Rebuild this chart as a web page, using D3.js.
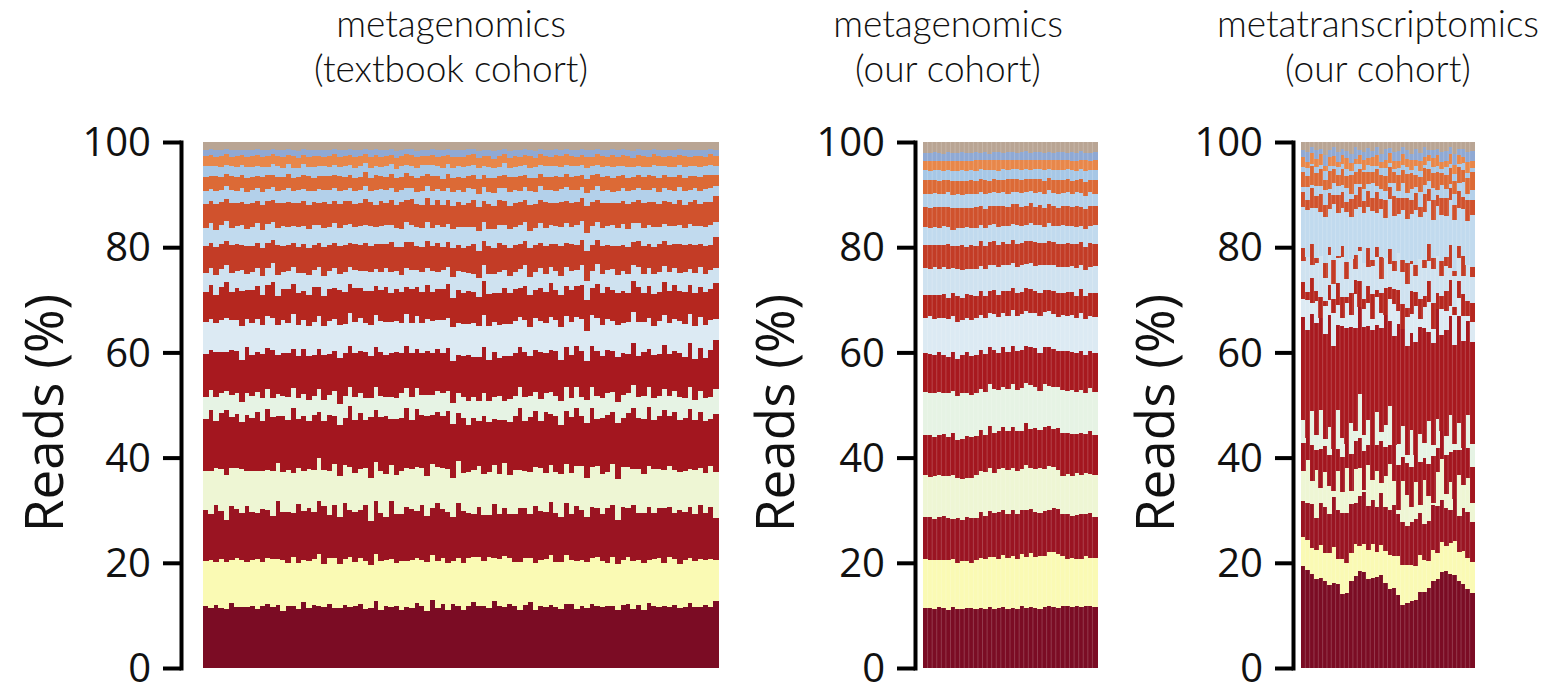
<!DOCTYPE html>
<html><head><meta charset="utf-8">
<script src="https://cdn.jsdelivr.net/npm/d3@7"></script>
<style>
html,body{margin:0;padding:0;background:#fff;}
svg{display:block;}
</style></head><body>
<svg id="chart" width="1566" height="689"></svg>
<script>
// ---------------- DATA ----------------
const taxa = ["taxon 1","taxon 2","taxon 3","taxon 4","taxon 5","taxon 6","taxon 7","taxon 8","taxon 9","taxon 10",
              "taxon 11","taxon 12","taxon 13","taxon 14","taxon 15","taxon 16","taxon 17","taxon 18","taxon 19"];
const taxonColors = ["#7b0c24","#fafab4","#9a1422","#eef6d4","#a3161f","#e6f3e4","#a8191f","#dceaf3","#b5271f","#cfe2f0",
                     "#c33c26","#c1daee","#d0522d","#b3d0ea","#dc6a36","#a6c7e6","#e8874a","#8fa9d4","#b9a594"];
const yTickValues = [0,20,40,60,80,100];
const panelTitles = [["metagenomics","(textbook cohort)"],["metagenomics","(our cohort)"],["metatranscriptomics","(our cohort)"]];
const yAxisLabel = "Reads (%)";

// reads per sample in 0.1 % units, one row per taxon (bottom of stack first)
const textbookCohortReads = [
 [118,112,121,115,109,124,117,113,120,116,111,119,125,114,118,108,122,117,113,127,115,120,112,118,123,110,116,121,114,119,122,113,117,126,111,118,115,120,109,117,114,121,118,112,124,116,119,113,122,115,110,117,123,115,119,112,126,118,114,120,117,111,120,124,113,118,115,121,116,110,119,123,114,117,112,125,118,113,120,116,113,118,122,115,119,111,124,117,114,121,116,120,113,118,125,112,117,122,115,130],
 [86,92,84,95,88,81,93,87,90,85,94,83,89,91,86,97,84,90,88,82,90,87,95,83,89,92,85,88,96,84,87,93,82,89,94,86,91,84,90,88,92,85,89,96,83,90,87,93,81,89,88,91,84,90,86,93,80,89,95,86,85,94,88,83,92,87,90,96,84,89,91,86,93,88,84,90,95,87,82,92,89,84,90,94,86,91,83,88,93,85,93,87,85,91,88,84,92,86,90,80],
 [98,85,110,92,78,104,95,88,112,90,86,102,94,80,108,91,99,84,115,93,101,89,96,112,83,98,90,106,87,95,92,107,85,99,93,81,110,96,89,103,96,88,104,91,86,113,92,99,84,101,98,86,80,92,88,78,100,84,90,82,90,103,96,82,111,94,88,102,93,85,97,89,108,95,83,100,92,87,106,96,84,99,93,110,89,96,102,85,94,107,95,88,101,92,98,86,104,90,97,83],
 [74,82,70,79,85,72,77,81,68,76,80,73,78,84,71,76,83,74,69,79,75,81,77,70,83,76,79,72,82,74,78,71,84,75,79,82,68,77,80,73,76,83,72,78,81,70,77,85,74,79,71,78,82,74,77,80,73,76,84,72,83,75,70,79,76,82,74,71,78,81,72,79,76,84,73,77,80,75,70,78,80,74,78,71,82,75,79,83,73,76,77,82,73,79,75,81,70,78,76,90],
 [100,115,92,108,120,96,104,88,112,99,110,94,118,101,87,106,97,122,93,105,92,104,83,96,108,89,100,91,114,100,106,92,119,97,104,111,86,109,99,115,93,108,101,117,90,105,96,113,102,88,104,90,98,84,112,93,87,102,80,99,104,118,95,102,109,89,114,98,106,92,99,107,113,94,101,116,90,105,111,96,108,91,103,120,97,106,112,93,100,117,95,110,98,104,115,92,107,101,89,112],
 [42,37,45,39,36,43,40,38,44,41,38,44,40,35,42,39,46,37,41,43,41,36,43,40,38,45,39,42,37,44,39,42,37,44,41,36,43,40,45,38,43,40,38,42,36,41,44,39,40,37,40,45,39,37,43,38,41,46,36,42,37,41,44,40,38,42,36,43,39,45,44,38,41,36,43,40,45,37,42,39,41,43,37,45,39,44,38,40,36,42,38,40,43,39,42,37,41,44,40,50],
 [82,75,88,79,72,85,80,77,90,78,76,84,79,91,73,81,86,74,80,87,83,78,72,86,80,75,89,81,77,84,79,88,81,74,85,78,83,90,76,80,85,73,80,87,77,82,75,84,79,71,78,86,74,81,89,76,83,72,85,80,81,77,86,75,82,88,74,80,84,78,74,83,79,87,72,80,85,78,82,76,87,80,75,83,78,86,73,81,79,85,80,76,84,79,86,74,82,77,88,95],
 [62,58,55,61,64,57,60,63,56,59,61,57,63,59,55,62,58,64,60,56,58,63,60,56,62,59,65,57,61,60,63,56,59,62,58,64,57,60,55,61,57,62,58,63,60,55,61,59,64,58,60,59,64,57,61,63,56,62,58,60,62,58,61,55,63,60,57,64,59,61,59,64,57,62,56,61,63,58,60,57,61,56,62,59,64,58,60,55,63,59,58,62,60,63,57,61,59,64,56,40],
 [58,64,55,62,67,53,60,65,57,61,63,56,61,68,54,59,66,57,62,55,60,66,53,59,63,57,68,61,55,64,57,62,67,54,60,65,56,63,59,52,64,55,60,66,53,61,58,67,56,62,59,63,57,52,64,60,55,62,68,58,61,56,65,60,54,63,58,66,57,60,55,62,59,64,58,53,66,60,63,57,63,58,54,61,67,56,62,59,55,65,60,64,57,62,55,61,58,63,59,70],
 [36,33,38,35,31,37,34,39,32,35,34,37,32,36,39,33,35,31,38,36,37,32,35,39,34,36,31,38,33,35,33,38,36,32,35,37,39,34,31,36,35,31,37,34,38,32,36,33,39,35,38,34,33,36,31,37,35,39,34,32,32,36,39,33,35,38,34,31,37,36,36,35,31,38,34,33,37,35,32,39,34,39,36,32,37,35,33,38,36,31,37,33,35,39,32,36,38,34,35,30],
 [52,47,55,49,44,53,50,46,56,48,46,54,50,43,57,49,52,45,51,55,53,48,44,56,50,47,54,51,45,49,49,55,51,46,53,44,57,48,52,50,54,45,49,52,47,56,43,50,55,48,47,52,56,50,45,51,48,54,46,53,51,49,45,55,52,47,53,44,50,56,45,53,50,48,56,51,46,52,49,44,55,48,52,45,50,54,47,51,53,49,50,46,54,51,48,52,45,55,47,60],
 [34,37,33,36,38,32,35,37,34,36,37,33,36,34,31,38,35,33,37,35,35,38,32,37,34,36,33,38,35,32,36,34,38,33,35,37,32,36,34,38,33,36,35,38,32,34,37,35,36,33,38,35,33,36,37,32,36,34,38,35,34,37,36,32,35,38,33,37,34,36,36,32,38,35,34,37,35,33,36,38,35,38,34,37,33,35,36,38,32,34,37,34,36,33,38,35,34,36,37,30],
 [46,42,49,44,41,47,45,43,50,44,43,48,45,40,47,44,49,42,46,48,47,43,41,49,45,42,48,46,43,44,44,49,46,42,48,41,47,45,50,43,48,42,45,47,43,49,41,46,44,47,42,47,49,44,41,46,43,48,45,42,46,44,42,48,46,43,49,41,45,47,41,48,45,43,49,46,42,47,44,41,49,43,47,41,45,48,44,46,43,45,45,41,48,46,43,47,42,49,44,50],
 [25,23,26,22,24,25,23,27,22,24,23,26,24,25,22,24,27,23,25,24,26,22,25,24,27,23,24,22,26,25,24,25,23,27,22,26,24,25,23,22,22,24,27,23,25,22,26,24,27,23,25,27,22,24,26,23,25,22,24,26,23,22,25,26,24,27,22,25,23,24,27,24,23,22,25,24,26,23,25,22,24,26,25,23,22,25,23,27,24,26,22,25,24,26,23,22,25,24,26,20],
 [27,24,28,25,23,27,26,24,29,25,24,28,26,23,27,25,28,24,26,27,28,25,23,27,26,24,29,25,23,26,25,27,24,28,25,23,26,27,24,28,23,26,28,24,27,25,23,28,26,24,27,24,25,28,23,26,27,24,25,28,26,28,23,25,27,24,25,26,28,23,24,25,27,23,26,28,24,25,27,26,28,23,26,27,24,25,28,23,26,25,25,27,24,26,28,23,26,27,24,22],
 [20,18,19,21,17,19,20,18,21,19,18,20,17,19,21,18,19,20,17,20,19,21,18,20,18,19,17,21,19,18,21,17,20,18,19,21,18,19,20,17,18,19,21,17,20,18,21,18,19,20,20,18,19,21,17,20,19,17,21,18,19,20,18,19,21,17,20,21,18,19,17,21,19,18,20,19,18,20,19,21,20,18,21,19,18,20,17,19,21,18,19,20,18,21,19,18,20,17,19,18],
 [19,21,18,20,19,17,20,18,21,19,20,18,21,19,17,20,18,21,19,18,18,20,19,17,21,19,20,18,19,21,19,18,21,20,18,19,17,21,18,20,21,19,17,19,20,18,21,19,20,17,18,21,20,18,19,21,18,20,17,19,20,17,19,21,18,20,19,17,21,20,19,20,18,19,21,17,20,19,18,21,17,19,20,18,20,21,18,21,19,18,20,18,19,21,17,19,21,18,20,19],
 [12,11,13,12,10,13,12,11,13,12,11,13,12,10,12,13,11,12,14,11,13,12,11,13,12,10,13,12,11,13,12,10,13,11,13,12,11,14,12,10,11,13,12,12,10,13,12,11,13,12,13,11,10,13,12,11,14,12,10,13,12,13,11,12,14,10,12,13,11,12,10,12,13,11,12,13,10,12,13,11,13,11,12,14,11,12,13,10,12,13,12,13,11,12,13,11,12,13,10,12],
 [15,14,16,15,13,16,15,14,16,15,14,16,15,13,15,16,14,15,17,14,16,15,14,16,15,13,16,15,14,16,15,13,16,14,16,15,14,17,15,13,14,16,15,15,13,16,15,14,16,15,16,14,13,16,15,14,17,15,13,16,15,16,14,15,17,13,15,16,14,15,13,15,16,14,15,16,13,15,16,14,16,14,15,17,14,15,16,13,15,16,15,16,14,15,16,14,15,16,13,15]
];

const ourCohortMetagenomicsReads = [
 [112,113,111,114,112,110,113,109,111,112,114,113,115,113,116,114,115,117,114,116,115,118,116,119,117,115,118,120,117,116,119,117,115,118,116,119,117,115],
 [93,90,92,88,91,94,89,86,90,87,84,92,95,97,94,99,96,100,98,102,97,101,99,104,100,103,98,106,108,102,95,90,93,88,92,95,91,94],
 [78,82,76,80,84,79,75,83,77,81,85,80,86,82,88,84,90,86,83,89,87,84,91,85,88,82,86,80,84,87,81,85,79,83,86,80,84,78],
 [80,76,82,78,74,79,83,75,77,72,76,81,78,84,80,77,82,79,85,81,83,78,86,80,84,88,82,86,79,74,72,77,75,80,76,78,74,79],
 [74,78,72,76,80,73,77,71,75,79,76,74,78,72,80,77,73,79,75,81,78,74,82,76,79,73,80,77,75,82,84,78,80,74,79,76,81,77],
 [82,79,84,80,77,83,78,81,85,79,80,83,78,82,79,84,80,77,81,83,79,82,78,84,80,77,83,79,81,78,82,80,84,79,83,78,81,80],
 [72,75,70,74,71,68,73,69,72,76,74,71,75,73,70,74,72,76,71,73,75,72,70,74,77,73,71,75,72,70,74,76,71,73,75,72,70,74],
 [66,70,68,65,69,72,67,70,66,64,68,71,67,69,66,70,68,65,69,71,67,70,68,66,69,72,67,70,68,65,69,66,70,67,71,68,66,69],
 [44,41,46,42,45,40,43,47,41,44,46,42,45,43,41,46,44,42,47,43,45,41,44,46,42,45,43,40,44,46,42,45,43,41,46,44,42,45],
 [50,48,52,49,51,53,47,50,52,46,49,51,48,52,50,47,53,49,51,48,50,52,47,51,49,53,48,50,52,49,51,48,50,53,47,51,49,52],
 [44,46,42,45,43,47,41,44,46,42,45,43,47,44,42,46,43,45,41,44,46,42,45,43,47,44,42,46,43,45,44,46,42,45,43,44,46,42],
 [33,31,34,32,35,33,30,34,32,36,33,35,31,34,32,33,35,31,34,32,36,33,31,34,33,35,32,34,31,33,35,32,34,33,31,34,32,35],
 [37,39,36,38,35,37,40,36,38,35,37,39,36,38,37,35,39,37,36,38,40,36,37,39,35,38,36,37,39,36,38,37,35,39,36,38,37,36],
 [26,25,27,24,26,28,25,27,24,26,27,25,26,28,24,26,25,27,26,24,25,27,26,24,28,25,26,27,25,26,24,27,25,26,28,25,26,24],
 [25,27,24,26,25,23,26,24,27,25,26,24,25,27,23,26,25,24,27,25,24,26,25,23,27,25,26,24,25,27,26,24,25,23,26,27,24,25],
 [19,18,20,19,17,20,18,19,21,18,19,20,18,19,21,17,19,20,18,19,20,18,19,17,20,19,21,18,19,20,18,19,20,18,19,21,18,19],
 [18,19,17,18,20,17,19,18,17,19,18,20,17,19,18,18,20,17,19,18,17,19,18,20,17,18,19,17,20,18,19,17,18,19,17,20,18,19],
 [15,14,16,15,13,16,14,15,17,14,15,16,14,15,13,16,15,14,16,15,14,15,17,14,15,16,13,15,14,16,15,14,16,15,17,14,15,16],
 [20,21,19,20,22,19,21,20,18,21,20,19,21,20,22,19,20,21,19,20,21,20,18,21,20,19,22,20,21,19,20,21,19,20,18,21,20,19]
];

const ourCohortMetatranscriptomicsReads = [
 [200,195,182,178,175,170,165,160,172,138,150,168,178,190,193,185,175,188,180,170,162,155,140,125,122,128,130,142,150,160,168,178,185,192,190,180,175,160,152,148],
 [56,60,52,58,64,55,62,68,50,66,58,54,62,48,55,60,66,52,58,64,70,62,75,78,72,68,64,70,62,55,60,52,58,50,62,66,58,64,60,62],
 [70,75,85,65,80,90,78,95,100,85,100,95,80,98,105,90,85,95,100,88,92,98,80,85,75,82,90,78,70,80,85,92,82,75,68,80,72,82,88,78],
 [60,85,45,95,30,70,55,10,80,40,90,25,65,55,5,85,38,75,20,62,95,45,8,80,58,30,70,15,88,50,5,68,78,28,55,0,82,45,65,38],
 [55,45,70,40,75,50,62,80,45,65,48,72,55,60,78,42,68,52,80,58,38,70,85,48,60,75,52,82,42,65,90,48,55,78,62,95,50,70,58,72],
 [45,0,65,30,75,15,55,0,80,35,0,60,20,85,32,50,0,70,18,45,80,0,40,62,15,72,0,52,30,85,22,58,0,38,75,12,55,0,65,45],
 [200,215,190,225,180,205,220,195,175,210,230,185,200,170,215,195,225,180,200,220,175,210,230,190,205,185,215,200,225,180,195,220,185,210,200,190,215,205,180,200],
 [35,60,20,45,0,55,30,62,40,15,50,25,65,0,38,48,20,58,30,0,45,62,25,0,55,35,68,15,42,60,28,0,50,38,20,58,35,48,10,40],
 [35,15,50,20,40,10,30,25,45,38,12,42,28,52,20,35,48,15,38,55,25,30,40,50,18,45,28,38,22,42,50,32,25,40,52,15,35,42,28,38],
 [40,70,25,55,80,45,60,30,50,75,35,65,20,58,72,40,55,68,28,60,48,35,70,62,45,52,30,75,55,40,65,72,38,50,25,60,45,35,70,52],
 [25,0,40,10,0,30,15,45,5,20,35,0,28,8,0,38,12,22,42,0,30,18,0,25,40,5,20,0,15,35,22,0,30,18,45,10,25,38,0,20],
 [80,95,70,100,85,90,75,105,88,72,98,82,90,78,100,85,95,70,92,80,102,88,75,98,82,90,105,78,95,85,72,100,88,80,92,98,75,90,85,102],
 [30,20,40,25,35,23,33,17,37,30,20,35,27,40,23,33,25,43,20,35,25,37,30,23,40,27,33,20,35,25,40,23,33,37,25,30,35,23,40,30],
 [10,25,5,20,15,30,8,22,18,12,28,10,20,5,25,15,30,12,20,18,8,25,15,30,10,20,12,28,18,15,22,10,25,18,8,20,15,28,12,20],
 [30,23,37,25,33,20,35,27,23,31,25,37,23,30,33,25,21,35,27,30,33,23,29,25,35,30,23,27,33,25,30,35,23,27,31,25,33,23,30,35],
 [10,15,5,13,7,17,10,5,15,9,13,7,17,10,5,15,11,7,13,17,9,5,15,10,13,7,17,11,5,15,10,13,7,17,9,15,5,13,10,7],
 [18,12,20,15,22,10,18,20,12,16,22,15,10,18,20,14,18,22,12,15,20,16,12,22,15,18,10,20,16,12,18,22,15,12,20,16,18,12,22,15],
 [15,20,12,18,10,22,14,16,20,12,15,18,22,10,16,20,12,18,15,22,10,16,20,14,18,12,22,15,20,10,16,12,18,20,14,22,12,16,18,20],
 [15,20,10,17,13,25,15,10,20,13,17,23,10,15,20,13,17,10,23,15,13,20,17,10,15,23,13,20,10,17,15,13,20,17,10,23,15,13,20,17]
];

// ---------------- LAYOUT ----------------
const svg = d3.select("#chart");
const y = d3.scaleLinear().domain([0, 100]).range([668, 142]);

const panels = [
  {reads: textbookCohortReads,               x0: 203,  x1: 718,  axisX: 181,  labelX: 63,   titleX: 451,  sep: false},
  {reads: ourCohortMetagenomicsReads,        x0: 923,  x1: 1097, axisX: 915,  labelX: 794,  titleX: 948,  sep: true},
  {reads: ourCohortMetatranscriptomicsReads, x0: 1301, x1: 1474, axisX: 1293, labelX: 1174, titleX: 1378, sep: true}
];

panels.forEach((p, pi) => {
  const n = d3.min(p.reads, a => a.length);
  const rows = d3.range(n).map(i => {
    const r = {sample: i};
    taxa.forEach((t, k) => { r[t] = p.reads[k][i]; });
    return r;
  });
  const series = d3.stack().keys(taxa).offset(d3.stackOffsetExpand)(rows);
  const x = d3.scaleBand().domain(d3.range(n)).range([p.x0, p.x1]).padding(0);

  const g = svg.append("g");
  g.selectAll("g.layer").data(series).join("g")
    .attr("class", "layer")
    .attr("fill", (d, i) => taxonColors[i])
    .selectAll("rect").data(d => d).join("rect")
    .attr("x", d => x(d.data.sample))
    .attr("width", x.bandwidth() + 0.6)
    .attr("y", d => y(d[1] * 100))
    .attr("height", d => Math.max(0, y(d[0] * 100) - y(d[1] * 100)))
    .attr("shape-rendering", "crispEdges");

  if (p.sep) {
    g.selectAll("line.sep").data(d3.range(1, n)).join("line")
      .attr("class", "sep")
      .attr("x1", i => x(i)).attr("x2", i => x(i))
      .attr("y1", y(100)).attr("y2", y(0))
      .attr("stroke", "#ffffff").attr("stroke-opacity", 0.28).attr("stroke-width", 0.7);
  }

  // axis
  const axis = d3.axisLeft(y).tickValues(yTickValues).tickSize(18).tickPadding(12)
    .tickSizeOuter(0).tickFormat(d3.format("d"));
  const ga = svg.append("g").attr("transform", `translate(${p.axisX},0)`).call(axis);
  ga.attr("font-family", "'Open Sans', sans-serif").attr("font-size", 40);
  ga.select(".domain").attr("stroke", "#000").attr("stroke-width", 4).attr("stroke-linecap", "square");
  ga.selectAll(".tick line").attr("stroke", "#000").attr("stroke-width", 4);
  ga.selectAll(".tick text").attr("fill", "#111").attr("dy", "0.34em");

  // y label
  svg.append("text")
    .attr("transform", `translate(${p.labelX},413) rotate(-90)`)
    .attr("text-anchor", "middle")
    .attr("font-family", "'Open Sans', sans-serif")
    .attr("font-size", 53)
    .attr("fill", "#111")
    .text(yAxisLabel);

  // title (two lines)
  [0, 1].forEach(li => {
    svg.append("text")
      .attr("x", p.titleX).attr("y", li === 0 ? 37 : 82)
      .attr("text-anchor", "middle")
      .attr("font-family", "Lato, sans-serif")
      .attr("font-weight", 300)
      .attr("font-size", 37)
      .attr("fill", "#111")
      .text(panelTitles[pi][li]);
  });
});
</script>
</body></html>
